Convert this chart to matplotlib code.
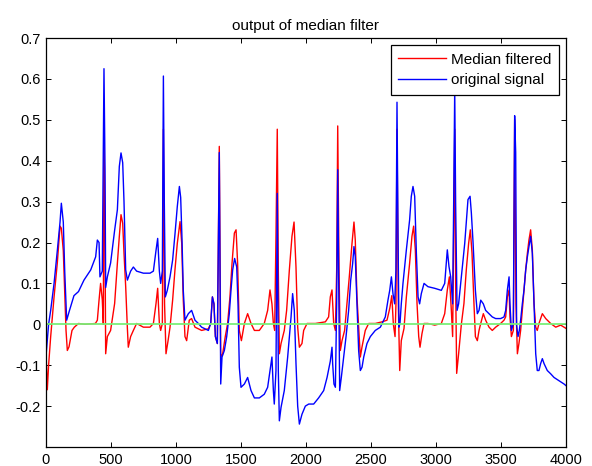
import matplotlib
matplotlib.use("Agg")
import matplotlib.pyplot as plt

plt.rcParams['font.family'] = ['Liberation Sans', 'DejaVu Sans']

# Median filtered signal (sample index, value)
red_x = [0, 10, 20, 36, 62, 87, 108, 118, 133, 144, 154, 164, 177, 200, 218, 250, 300, 380, 395, 408, 420, 433, 441,
         446, 454, 459, 472, 497, 528, 549, 564, 577, 590, 600, 613, 626, 633, 651, 672, 697, 749, 800, 826, 846, 859,
         872, 882, 895, 903, 912, 923, 939, 954, 974, 992, 1010, 1031, 1044, 1056, 1069, 1082, 1102, 1120, 1146, 1172,
         1197, 1249, 1267, 1280, 1292, 1303, 1318, 1333, 1344, 1359, 1379, 1397, 1415, 1431, 1449, 1462, 1474, 1487,
         1503, 1526, 1551, 1577, 1603, 1641, 1679, 1705, 1723, 1738, 1749, 1759, 1769, 1779, 1787, 1795, 1808, 1833,
         1851, 1872, 1892, 1908, 1923, 1936, 1949, 1969, 1982, 2008, 2072, 2149, 2174, 2187, 2200, 2213, 2226, 2236,
         2244, 2254, 2264, 2277, 2297, 2315, 2333, 2354, 2369, 2379, 2392, 2405, 2418, 2431, 2456, 2482, 2533, 2585,
         2623, 2645, 2660, 2672, 2685, 2692, 2700, 2710, 2721, 2733, 2754, 2772, 2797, 2815, 2828, 2841, 2854, 2867,
         2877, 2892, 2908, 2938, 2990, 3041, 3067, 3087, 3103, 3118, 3128, 3136, 3144, 3151, 3159, 3174, 3195, 3215,
         3233, 3251, 3264, 3277, 3292, 3303, 3318, 3331, 3344, 3364, 3382, 3408, 3433, 3459, 3497, 3523, 3536, 3549,
         3562, 3569, 3580, 3595, 3605, 3615, 3626, 3638, 3651, 3664, 3677, 3690, 3703, 3715, 3728, 3741, 3754, 3767,
         3779, 3792, 3818, 3844, 3882, 3921, 3959, 3985, 4000]
red_y = [-0.07, -0.16, -0.1, -0.03, 0.067, 0.15, 0.24, 0.235, 0.18, 0.08, -0.015, -0.064, -0.055, -0.015, -0.007,
         0.002, 0.0, 0.002, 0.01, 0.059, 0.1, 0.06, 0.0,
         0.485, 0.2, -0.072, -0.03, -0.015, 0.051, 0.149, 0.215, 0.268, 0.247, 0.174, 0.092, -0.01, -0.056, -0.03,
         -0.015, 0.002, -0.007, -0.007, 0.002, 0.05, 0.088,
         0.002, -0.015, 0.002, 0.477, 0.05, -0.072, -0.04, -0.007, 0.059, 0.133, 0.198, 0.251, 0.198, 0.059, -0.03,
         -0.04, 0.01, 0.014, -0.007, -0.011,
         -0.015, -0.011, 0.002, 0.067, 0.05, -0.03, -0.047, 0.435, -0.08, -0.072, -0.03, 0.002, 0.067, 0.149, 0.223,
         0.231, 0.149, -0.015,
         -0.04, 0.002, 0.026, 0.002, -0.015, -0.015, 0.002, 0.034, 0.084, 0.05, 0.002, -0.015, 0.215, 0.477, 0.133,
         -0.072, -0.047, -0.015,
         0.034, 0.133, 0.215, 0.25, 0.14, -0.007, -0.056, -0.047, -0.015, 0.002, 0.002, 0.006, 0.018, 0.067, 0.084,
         0.002, -0.015, 0.133,
         0.485, 0.133, -0.064, -0.04, -0.015, 0.051, 0.116, 0.198, 0.25, 0.206, 0.067, -0.007, -0.08, -0.055, -0.015,
         0.002, 0.002, 0.006,
         0.01, 0.04, 0.07, 0.0, -0.03, 0.05, 0.477, 0.05, -0.113, -0.04, -0.01, 0.067, 0.149, 0.215, 0.24, 0.182,
         0.051, -0.03,
         -0.056, -0.023, 0.002, 0.002, -0.002, 0.002, 0.026, 0.084, 0.116, 0.034, -0.03, 0.215, 0.477, 0.1, -0.12,
         -0.072, 0.0, 0.051,
         0.133, 0.198, 0.231, 0.174, 0.051, -0.03, -0.04, -0.015, 0.002, 0.026, 0.01, -0.007, -0.015, -0.007, 0.002,
         0.01, 0.018, 0.067,
         0.084, 0.018, -0.03, -0.015, 0.5, 0.05, -0.072, -0.047, -0.015, 0.034, 0.084, 0.133, 0.174, 0.206, 0.231,
         0.182, 0.051, -0.007,
         -0.015, 0.002, 0.026, 0.014, 0.002, -0.007, -0.002, -0.007, -0.01]

# Original signal (sample index, value)
blue_x = [0, 2, 20, 36, 62, 87, 108, 118, 133, 144, 159, 177, 215, 250, 292, 344, 382, 395, 408, 415, 433, 446, 454,
          459, 472, 497, 528, 549, 564, 577, 590, 600, 613, 626, 651, 672, 697, 749, 800, 826, 846, 859, 872, 882, 895,
          903, 910, 918, 933, 954, 974, 992, 1010, 1026, 1036, 1046, 1056, 1069, 1095, 1120, 1146, 1172, 1197, 1249,
          1267, 1280, 1292, 1303, 1318, 1333, 1344, 1354, 1372, 1390, 1410, 1423, 1436, 1451, 1467, 1477, 1487, 1500,
          1526, 1551, 1577, 1603, 1641, 1679, 1705, 1723, 1738, 1749, 1756, 1769, 1779, 1787, 1795, 1808, 1833, 1859,
          1885, 1897, 1910, 1923, 1936, 1949, 1969, 1995, 2021, 2059, 2097, 2136, 2162, 2187, 2200, 2205, 2215, 2226,
          2236, 2244, 2251, 2259, 2272, 2290, 2308, 2328, 2344, 2359, 2369, 2379, 2392, 2405, 2418, 2431, 2444, 2469,
          2495, 2533, 2572, 2610, 2631, 2644, 2657, 2669, 2682, 2692, 2700, 2708, 2715, 2723, 2733, 2746, 2772, 2797,
          2810, 2823, 2836, 2849, 2862, 2874, 2887, 2908, 2938, 2990, 3041, 3067, 3087, 3100, 3113, 3128, 3136, 3144,
          3151, 3162, 3174, 3195, 3221, 3246, 3262, 3272, 3285, 3303, 3318, 3331, 3344, 3364, 3382, 3408, 3433, 3459,
          3497, 3523, 3536, 3549, 3562, 3569, 3580, 3595, 3605, 3613, 3620, 3631, 3641, 3651, 3664, 3677, 3690, 3703,
          3715, 3728, 3741, 3754, 3767, 3779, 3792, 3805, 3818, 3831, 3856, 3882, 3908, 3946, 3985, 4000]
blue_y = [0.46, -0.07, 0.0, 0.034, 0.1, 0.18, 0.25, 0.296, 0.25, 0.13, 0.01, 0.03, 0.07, 0.08, 0.108, 0.133, 0.165,
          0.206, 0.2, 0.116, 0.13, 0.625, 0.38,
          0.09, 0.116, 0.15, 0.23, 0.28, 0.386, 0.419, 0.395, 0.3, 0.133, 0.108, 0.13, 0.14, 0.13, 0.125, 0.125, 0.13,
          0.18, 0.21, 0.13, 0.1, 0.13,
          0.607, 0.3, 0.067, 0.083, 0.116, 0.157, 0.22, 0.288, 0.337, 0.31, 0.21, 0.083, 0.01, 0.026, 0.034, 0.01,
          0.002, -0.007, -0.015,
          0.002, 0.067, 0.05, -0.03, -0.047, 0.42, -0.146, -0.08, -0.064, -0.03, 0.026, 0.083, 0.133, 0.161, 0.14,
          0.05, -0.105, -0.154,
          -0.146, -0.13, -0.162, -0.18, -0.18, -0.171, -0.154, -0.113, -0.08, -0.162, -0.195, -0.113, 0.32, -0.113,
          -0.236, -0.203, -0.162, -0.08,
          0.018, 0.075, 0.034, -0.096, -0.2, -0.244, -0.22, -0.2, -0.195, -0.195, -0.18, -0.162, -0.13, -0.09, -0.056,
          -0.096, -0.146, -0.154,
          0.05, 0.378, 0.13, -0.162, -0.129, -0.08, -0.03, 0.034, 0.108, 0.149, 0.19, 0.165, 0.05, -0.064, -0.113,
          -0.105, -0.08, -0.047,
          -0.03, -0.015, -0.007, 0.018, 0.06, 0.083, 0.116, 0.075, 0.05, 0.133, 0.543, 0.215, -0.007, 0.002, 0.05,
          0.1, 0.182, 0.255,
          0.313, 0.337, 0.313, 0.174, 0.067, 0.05, 0.075, 0.1, 0.092, 0.088, 0.083, 0.1, 0.182, 0.141, 0.116, 0.05,
          0.297, 0.575,
          0.297, 0.034, 0.05, 0.116, 0.198, 0.305, 0.313, 0.272, 0.2, 0.083, 0.026, 0.034, 0.059, 0.05, 0.034, 0.026,
          0.018, 0.014,
          0.014, 0.018, 0.034, 0.084, 0.116, 0.05, -0.015, 0.002, 0.51, 0.42, -0.002, -0.03, -0.015, 0.01, 0.05,
          0.084, 0.133, 0.165,
          0.19, 0.215, 0.174, 0.05, -0.072, -0.113, -0.113, -0.096, -0.084, -0.096, -0.113, -0.121, -0.13, -0.138,
          -0.146, -0.15]

zero_x = [0, 4000]
zero_y = [0, 0]

x_ticks = [0, 500, 1000, 1500, 2000, 2500, 3000, 3500, 4000]
y_ticks = [-0.2, -0.1, 0, 0.1, 0.2, 0.3, 0.4, 0.5, 0.6, 0.7]
y_labels = ['-0.2', '-0.1', '0', '0.1', '0.2', '0.3', '0.4', '0.5', '0.6', '0.7']

fig = plt.figure(figsize=(5.92, 4.66), dpi=100)
ax = fig.add_axes([46 / 592, 19 / 466, 520 / 592, 409 / 466])

ax.plot(red_x, red_y, color='#ff0000', lw=1.0, label='Median filtered')
ax.plot(blue_x, blue_y, color='#0000ff', lw=1.0, label='original signal')
ax.plot(zero_x, zero_y, color='#78f078', lw=1.3)

ax.set_xlim(0, 4000)
ax.set_ylim(-0.3, 0.7)
ax.set_xticks(x_ticks)
ax.set_yticks(y_ticks)
ax.set_yticklabels(y_labels)
ax.tick_params(direction='in', length=3.6, width=0.7, top=True, right=True, labelsize=10.5, pad=4)
for s in ax.spines.values():
    s.set_linewidth(0.9)

ax.set_title('output of median filter', fontsize=11, pad=6)

leg = ax.legend(loc='upper right', fontsize=11, frameon=True, fancybox=False, edgecolor='black',
                framealpha=1, handlelength=3.1, handletextpad=0.35, labelspacing=0.45,
                borderpad=0.5, borderaxespad=0.45)
leg.get_frame().set_linewidth(0.9)

fig.savefig('out.png', dpi=100)
